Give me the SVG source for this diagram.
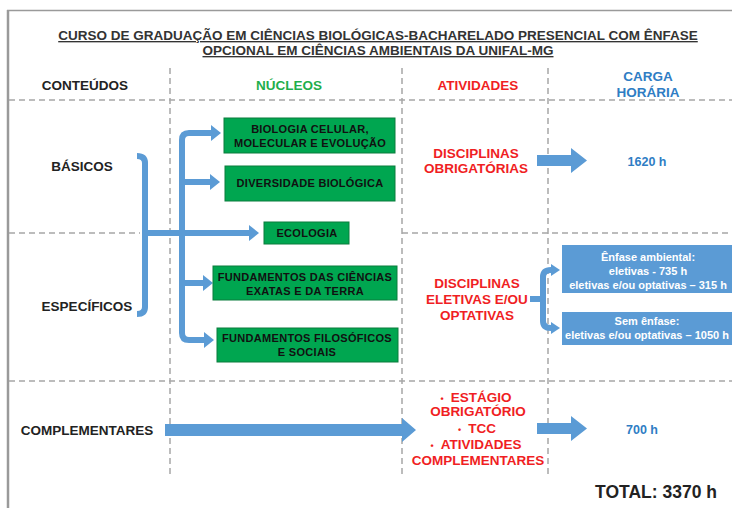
<svg xmlns="http://www.w3.org/2000/svg" width="732" height="508" viewBox="0 0 732 508">
<style>
text{font-family:"Liberation Sans",Arial,sans-serif;font-weight:bold;text-anchor:middle}
.t{font-size:13.5px;fill:#333;text-decoration:underline}
.h{font-size:13.5px}
.k{fill:#222}
.g{fill:#1fae4b}
.r{fill:#f01e23}
.b{fill:#2f7dc4}
.bx{font-size:11px;fill:#111;letter-spacing:0.3px}
.wb{font-size:11px;fill:#fff}
.gbox{fill:#00a650;stroke:#0b7d3c;stroke-width:1}
.bbox{fill:#5b9bd5}
.dash{stroke:#a6a6a6;stroke-width:1.5;stroke-dasharray:6 4;fill:none}
.ln{stroke:#5b9bd5;stroke-width:6;fill:none;stroke-linejoin:round}
.ah{fill:#5b9bd5}
.bul{font-size:9px}
</style>
<rect width="732" height="508" fill="#fff"/>
<g id="frame">
<line x1="7" y1="10.5" x2="732" y2="10.5" stroke="#9a9a9a" stroke-width="1.5"/>
<line x1="8" y1="10" x2="8" y2="508" stroke="#9a9a9a" stroke-width="2.5"/>
</g>
<g id="grid">
<line class="dash" x1="9" y1="100" x2="732" y2="100"/>
<line class="dash" x1="9" y1="233" x2="140" y2="233"/>
<line class="dash" x1="402" y1="233" x2="732" y2="233"/>
<line class="dash" x1="9" y1="381" x2="732" y2="381"/>
<line class="dash" x1="170" y1="68" x2="170" y2="476"/>
<line class="dash" x1="402" y1="68" x2="402" y2="476"/>
<line class="dash" x1="548" y1="68" x2="548" y2="476"/>
</g>
<g id="title">
<text class="t" x="378" y="40">CURSO DE GRADUAÇÃO EM CIÊNCIAS BIOLÓGICAS-BACHARELADO PRESENCIAL COM ÊNFASE</text>
<text class="t" x="378" y="55">OPCIONAL EM CIÊNCIAS AMBIENTAIS DA UNIFAL-MG</text>
</g>
<g id="headers">
<text class="h k" x="85" y="90">CONTEÚDOS</text>
<text class="h g" x="289" y="90">NÚCLEOS</text>
<text class="h r" x="478" y="90">ATIVIDADES</text>
<text class="h b" x="648" y="81">CARGA</text>
<text class="h b" x="648" y="97">HORÁRIA</text>
</g>
<g id="conteudos">
<text class="h k" x="82" y="171">BÁSICOS</text>
<text class="h k" x="87" y="311">ESPECÍFICOS</text>
<text class="h k" x="87" y="435">COMPLEMENTARES</text>
</g>
<g id="connectors">
<path class="ln" d="M137,156 Q145,156 145,163 L145,307 Q145,314 137,314"/>
<path class="ln" d="M145,233 L250,233"/>
<polygon class="ah" points="249,225 259,233 249,241"/>
<path class="ln" d="M212,133 L189,133 Q182,133 182,140 L182,333 Q182,340 189,340 L205,340"/>
<path class="ln" d="M182,182 L211,182"/>
<path class="ln" d="M182,283 L204,283"/>
<polygon class="ah" points="211,125 221,133 211,141"/>
<polygon class="ah" points="210,174 220,182 210,190"/>
<polygon class="ah" points="203,275 213,283 203,291"/>
<polygon class="ah" points="204,332 214,340 204,348"/>
<polygon class="ah" points="537,155 571,155 571,148 587,160.5 571,173 571,166 537,166"/>
<polygon class="ah" points="165,424 402,424 402,418 416,430 402,442 402,436 165,436"/>
<polygon class="ah" points="537,423 571,423 571,416 587,428.5 571,441 571,434 537,434"/>
<path class="ln" d="M530,299 L543,299 M551,270 Q543,270 543,277 L543,321 Q543,328 551,328" stroke-width="5"/>
<polygon class="ah" points="551,264 560,270 551,276"/>
<polygon class="ah" points="551,322 560,328 551,334"/>
</g>
<g id="n-biologia">
<rect class="gbox" x="224" y="118" width="171" height="35"/>
<text class="bx" x="310" y="133">BIOLOGIA CELULAR,</text>
<text class="bx" x="310" y="147">MOLECULAR E EVOLUÇÃO</text>
</g>
<g id="n-diversidade">
<rect class="gbox" x="225" y="166" width="170" height="35"/>
<text class="bx" x="310" y="187">DIVERSIDADE BIOLÓGICA</text>
</g>
<g id="n-ecologia">
<rect class="gbox" x="264" y="222" width="85" height="22"/>
<text class="bx" x="307" y="237">ECOLOGIA</text>
</g>
<g id="n-exatas">
<rect class="gbox" x="213" y="266" width="184" height="34"/>
<text class="bx" x="305" y="281">FUNDAMENTOS DAS CIÊNCIAS</text>
<text class="bx" x="305" y="295">EXATAS E DA TERRA</text>
</g>
<g id="n-filosoficos">
<rect class="gbox" x="217" y="328" width="181" height="34"/>
<text class="bx" x="307" y="342">FUNDAMENTOS FILOSÓFICOS</text>
<text class="bx" x="307" y="356">E SOCIAIS</text>
</g>
<g id="a-obrigatorias">
<text class="h r" x="476" y="158">DISCIPLINAS</text>
<text class="h r" x="476" y="173">OBRIGATÓRIAS</text>
</g>
<g id="a-eletivas">
<text class="h r" x="477" y="288">DISCIPLINAS</text>
<text class="h r" x="477" y="304">ELETIVAS E/OU</text>
<text class="h r" x="477" y="320">OPTATIVAS</text>
</g>
<g id="a-complementares">
<text class="h r" x="476" y="402"><tspan class="bul">•</tspan><tspan dx="7">ESTÁGIO</tspan></text>
<text class="h r" x="478" y="416">OBRIGATÓRIO</text>
<text class="h r" x="477" y="433"><tspan class="bul">•</tspan><tspan dx="7">TCC</tspan></text>
<text class="h r" x="476" y="449"><tspan class="bul">•</tspan><tspan dx="7">ATIVIDADES</tspan></text>
<text class="h r" x="478" y="465">COMPLEMENTARES</text>
</g>
<g id="c-1620">
<text class="b" font-size="12.5" x="647" y="166">1620 h</text>
</g>
<g id="c-enfase">
<rect class="bbox" x="562" y="245" width="175" height="48"/>
<text class="wb" x="648" y="261">Ênfase ambiental:</text>
<text class="wb" x="648" y="275">eletivas - 735 h</text>
<text class="wb" x="648" y="289">eletivas e/ou optativas – 315 h</text>
</g>
<g id="c-sem">
<rect class="bbox" x="562" y="312" width="175" height="33"/>
<text class="wb" x="647" y="325">Sem ênfase:</text>
<text class="wb" x="647" y="339">eletivas e/ou optativas – 1050 h</text>
</g>
<g id="c-700">
<text class="b" font-size="12.5" x="642" y="434">700 h</text>
</g>
<g id="total">
<text class="k" font-size="17.5" x="717" y="498" style="text-anchor:end">TOTAL: 3370 h</text>
</g>
</svg>
